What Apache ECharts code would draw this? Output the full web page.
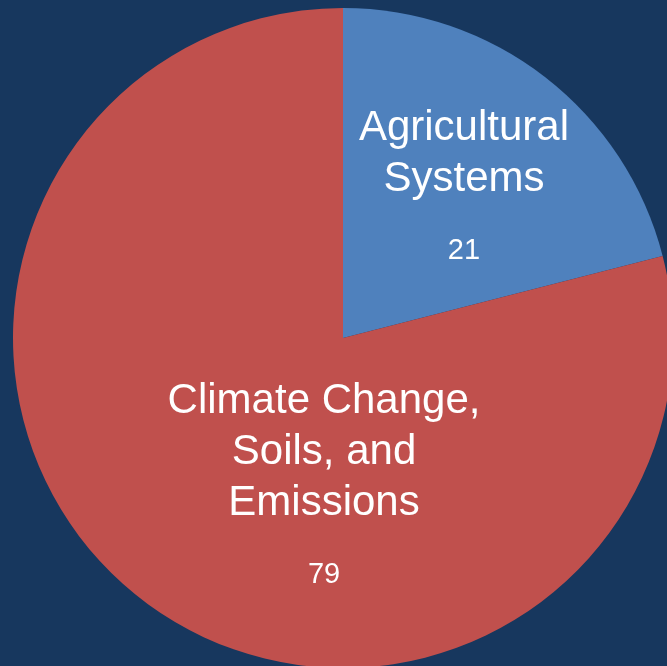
<!DOCTYPE html>
<html>
<head>
<meta charset="utf-8">
<script src="https://cdn.jsdelivr.net/npm/echarts@6/dist/echarts.min.js"></script>
<style>
html,body{margin:0;padding:0;background:#17375E;}
#chart{width:667px;height:666px;}
</style>
</head>
<body>
<div id="chart"></div>
<script>
const categories = ['Agricultural\nSystems', 'Climate Change,\nSoils, and\nEmissions'];
const values = [21, 79];
const colors = ['#4F81BD', '#C0504D'];
const labelShift = [[18, -5], [84, 28]];

const chart = echarts.init(document.getElementById('chart'), null, {renderer: 'canvas'});
chart.setOption({
  backgroundColor: '#17375E',
  animation: false,
  series: [{
    type: 'pie',
    center: [343, 338],
    radius: 330,
    startAngle: 90,
    clockwise: true,
    avoidLabelOverlap: false,
    data: categories.map((c, i) => ({name: c, value: values[i], itemStyle: {color: colors[i]}})),
    itemStyle: {borderWidth: 0},
    label: {
      show: true,
      position: 'inside',
      formatter: '{n|{b}}\n{v|{c}}',
      color: '#ffffff',
      rich: {
        n: {fontFamily: 'Liberation Sans, Arial, sans-serif', fontSize: 42, lineHeight: 51, color: '#ffffff', align: 'center'},
        v: {fontFamily: 'Liberation Sans, Arial, sans-serif', fontSize: 29, lineHeight: 93, color: '#ffffff', align: 'center'}
      }
    },
    labelLine: {show: false},
    labelLayout: function (p) {
      return {dx: labelShift[p.dataIndex][0], dy: labelShift[p.dataIndex][1]};
    },
    emphasis: {disabled: true}
  }]
});
</script>
</body>
</html>
